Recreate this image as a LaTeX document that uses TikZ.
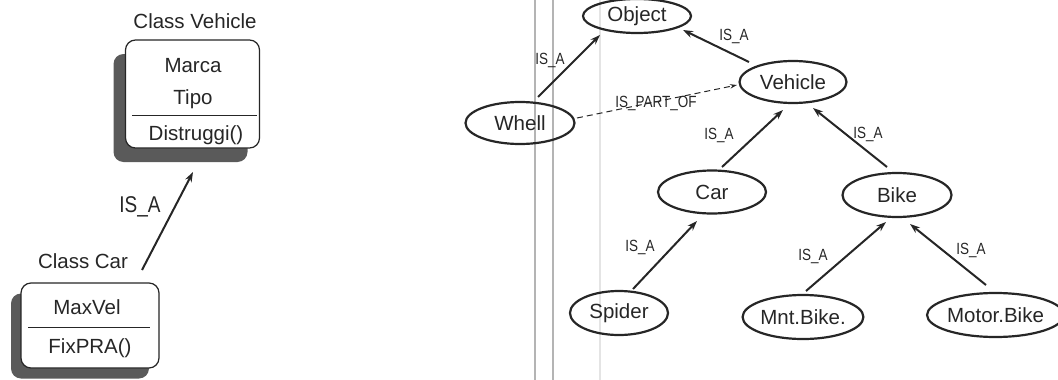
\documentclass[tikz,border=0pt]{standalone}
\usepackage{fontspec}
\setmainfont{Liberation Sans}
\usetikzlibrary{shapes.geometric,arrows.meta,calc}
\definecolor{ink}{HTML}{262626}
\definecolor{shade}{HTML}{5A5A5A}
\definecolor{rulegray}{HTML}{B4B4B4}
\definecolor{faintgray}{HTML}{E4E4E4}
% slightly tall lettering for the relation labels
\newcommand{\tallword}[1]{\scalebox{1}[1.2]{#1}}

\begin{document}
\begin{tikzpicture}[x=1pt,y=-1pt,
  every node/.style={text=ink},
  big/.style={font=\fontsize{20.5}{24}\selectfont},
  mid/.style={font=\fontsize{19}{22}\selectfont, inner sep=0pt},
  small/.style={font=\fontsize{13.5}{16}\selectfont, inner sep=0pt},
  concept/.style={ellipse, draw=ink, line width=2.2pt, inner sep=0pt, big},
  isa/.style={draw=ink, line width=2pt, -{Stealth[length=10pt,width=7pt]}},
  partof/.style={draw=ink, line width=1pt, dash pattern=on 6pt off 4pt, -{Stealth[length=7pt,width=4.5pt]}},
  classbox/.style={draw=ink, line width=1.2pt, rounded corners=10pt, fill=white, inner sep=0pt},
  shadowbox/.style={fill=shade, rounded corners=10pt},
  sepline/.style={draw=ink, line width=1pt},
]
\useasboundingbox (0,0) rectangle (1058,380);

% page rules running down the sheet
\draw[rulegray, line width=1.3pt] (535,0) -- (535,380);
\draw[rulegray, line width=1.3pt] (553,0) -- (553,380);
\draw[faintgray, line width=2pt] (600,0) -- (600,380);

% ---- class Vehicle ----
\fill[shadowbox] (113.5,54) rectangle (247.5,162);
\node[classbox, minimum width=134pt, minimum height=108pt] (vehbox) at (192.5,94) {};
\node[big, anchor=base] (vehname) at (195,28) {Class Vehicle};
\node[big, anchor=base] (marca) at (193,72) {Marca};
\node[big, anchor=base] (tipo) at (193,104) {Tipo};
\draw[sepline] (132,115) -- (257,115);
\node[big, anchor=base] (distr) at (196,140) {Distruggi()};

% ---- class Car ----
\fill[shadowbox] (11,293.5) rectangle (149,378.5);
\node[classbox, minimum width=138pt, minimum height=85pt] (carbox) at (90,325.5) {};
\node[big, anchor=base] (carname) at (83,268) {Class Car};
\node[big, anchor=base] (maxvel) at (87,314) {MaxVel};
\draw[sepline] (28,327) -- (150,327);
\node[big, anchor=base] (fixpra) at (90,353) {FixPRA()};

% inheritance between the classes
\draw[isa] ($(carbox)+(52,-55.5)$) -- ($(vehbox)+(0.5,78)$);
\node[mid, anchor=base] (isaleft) at (140,212) {\tallword{IS\_A}};

% ---- semantic network ----
\node[concept, minimum width=108pt, minimum height=34pt] (object) at (637,16) {Object};
\node[concept, minimum width=107pt, minimum height=42pt] (vehicle) at (793,82) {Vehicle};
\node[concept, minimum width=109pt, minimum height=42pt] (whell) at (520,123) {Whell};
\node[concept, minimum width=108pt, minimum height=43pt] (car) at (712,192) {Car};
\node[concept, minimum width=109pt, minimum height=44pt] (bike) at (897,195) {Bike};
\node[concept, minimum width=98pt, minimum height=44pt] (spider) at (619,313) {Spider};
\node[concept, minimum width=109pt, minimum height=44pt] (mnt) at (803,317) {Mnt.Bike.};
\node[concept, minimum width=122pt, minimum height=44pt] (motor) at (995.5,315) {Motor.Bike};

\draw[isa] ($(whell)+(18,-26)$) -- ($(object)+(-37,19)$);
\node[small] (l1) at (550,60) {\tallword{IS\_A}};

\draw[isa] ($(vehicle)+(-44,-20)$) -- ($(object)+(46,14)$);
\node[small] (l2) at (734,36) {\tallword{IS\_A}};

\draw[partof] ($(whell)+(57,-5)$) -- ($(vehicle)+(-56,3)$);
\node[small] (l3) at (656,103) {\tallword{IS\_PART\_OF}};

\draw[isa] ($(car)+(10,-25)$) -- ($(vehicle)+(-10,28)$);
\node[small] (l4) at (719,135) {\tallword{IS\_A}};

\draw[isa] ($(bike)+(-10,-28)$) -- ($(vehicle)+(20,26)$);
\node[small] (l5) at (868,134) {\tallword{IS\_A}};

\draw[isa] ($(spider)+(14,-24)$) -- ($(car)+(-15,29)$);
\node[small] (l6) at (640,247) {\tallword{IS\_A}};

\draw[isa] ($(mnt)+(3,-26)$) -- ($(bike)+(-11,27)$);
\node[small] (l7) at (813,256) {\tallword{IS\_A}};

\draw[isa] ($(motor)+(-9.5,-30)$) -- ($(bike)+(13,29)$);
\node[small] (l8) at (971,250) {\tallword{IS\_A}};
\end{tikzpicture}
\end{document}
